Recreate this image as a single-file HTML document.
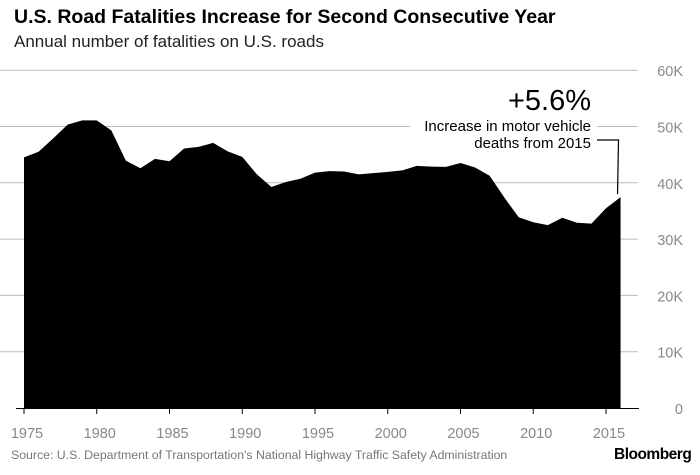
<!DOCTYPE html>
<html><head><meta charset="utf-8"><style>
body{margin:0;background:#fff;font-family:"Liberation Sans",sans-serif;}
#c{position:relative;width:700px;height:475px;overflow:hidden}
.t{position:absolute;white-space:nowrap}
</style></head><body>
<div id="c">
<div class="t" style="left:14px;top:6px;font-size:19.5px;font-weight:bold;color:#000">U.S. Road Fatalities Increase for Second Consecutive Year</div>
<div class="t" style="left:14px;top:32px;font-size:17px;color:#222">Annual number of fatalities on U.S. roads</div>
<svg id="s" width="700" height="475" style="position:absolute;left:0;top:0"></svg>
<div class="t" style="left:11px;top:448px;font-size:12.3px;color:#777">Source: U.S. Department of Transportation's National Highway Traffic Safety Administration</div>
<div class="t" style="left:614px;top:446px;font-size:15.5px;font-weight:bold;color:#000;letter-spacing:-0.5px">Bloomberg</div>
</div>
<script>
const years=[1975,1976,1977,1978,1979,1980,1981,1982,1983,1984,1985,1986,1987,1988,1989,1990,1991,1992,1993,1994,1995,1996,1997,1998,1999,2000,2001,2002,2003,2004,2005,2006,2007,2008,2009,2010,2011,2012,2013,2014,2015,2016];
const deaths=[44525,45523,47878,50331,51093,51091,49301,43945,42589,44257,43825,46087,46390,47087,45582,44599,41508,39250,40150,40716,41817,42065,42013,41501,41717,41945,42196,43005,42884,42836,43510,42708,41259,37423,33883,32999,32479,33782,32893,32744,35485,37461];
const yTicks=[0,10000,20000,30000,40000,50000,60000];
const yTickLabels=["0","10K","20K","30K","40K","50K","60K"];
const xTicks=[1975,1980,1985,1990,1995,2000,2005,2010,2015];
const NS="http://www.w3.org/2000/svg",s=document.getElementById('s');
const x=v=>24+(v-1975)*14.55, y=v=>408-v*337.8/60000;
function mk(t,a){const e=document.createElementNS(NS,t);for(const k in a)e.setAttribute(k,a[k]);s.appendChild(e);return e;}
yTicks.forEach((v,i)=>{
 if(v>0){const g=mk('line',{x1:0,x2:638,y1:y(v),y2:y(v),stroke:'#bbb','stroke-width':1});
 
 }
 const t=mk('text',{x:683,y:y(v)+6,'text-anchor':'end','font-size':14.5,fill:'#888','font-family':'Liberation Sans'});
 t.textContent=yTickLabels[i];
 
 
});
let d='M'+x(years[0])+','+y(0);
years.forEach((yr,i)=>{d+='L'+x(yr)+','+y(deaths[i]);});
d+='L'+x(years[years.length-1])+','+y(0)+'Z';
const a=mk('path',{d:d,fill:'#000'});


const ax=mk('line',{x1:16,x2:639,y1:408.5,y2:408.5,stroke:'#000','stroke-width':1});


xTicks.forEach(v=>{
 const l=mk('line',{x1:x(v),x2:x(v),y1:408,y2:414,stroke:'#000'});
 
 
 const t=mk('text',{x:x(v)+3,y:438,'text-anchor':'middle','font-size':14.5,fill:'#888','font-family':'Liberation Sans'});
 t.textContent=v;
 
 
});
const bg=mk('rect',{x:410,y:113,width:187,height:35,fill:'#fff'});


const lead=mk('polyline',{points:`597,140 618.5,140 ${x(2016)-3},${y(deaths[deaths.length-1])-3}`,fill:'none',stroke:'#000','stroke-width':1.2});


const p=mk('text',{x:591,y:110,'text-anchor':'end','font-size':29,fill:'#000','font-family':'Liberation Sans'});
p.textContent='+5.6%';


[['Increase in motor vehicle',131],['deaths from 2015',148]].forEach(r=>{
 const t=mk('text',{x:591,y:r[1],'text-anchor':'end','font-size':15,fill:'#000','font-family':'Liberation Sans'});
 t.textContent=r[0];
 
 
});
</script>
</body></html>
